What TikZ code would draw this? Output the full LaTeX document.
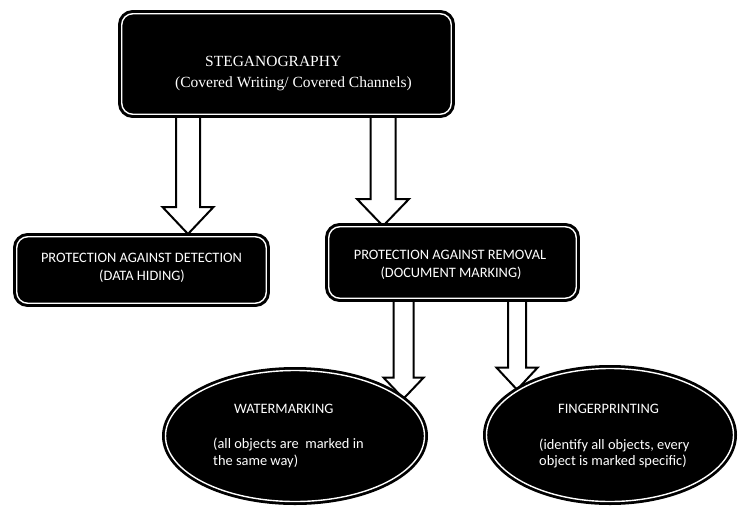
\documentclass[tikz,border=0pt]{standalone}
\usepackage{fontspec}
\newfontfamily\stegserif{Liberation Serif}
\newfontfamily\stegsans{Carlito}
\usetikzlibrary{positioning,shapes,calc,backgrounds}
\tikzset{
  block/.style={rectangle, rounded corners=11pt, draw=black, fill=black,
    line width=3pt, double=white, double distance=1.4pt},
  oval/.style={ellipse, draw=black, fill=black, inner sep=0pt,
    line width=2.8pt, double=white, double distance=1.4pt},
  hollow/.style={draw=black, fill=white, line width=2pt, line join=miter},
  serifline/.style={anchor=base west, inner sep=0pt, text=white,
    font=\stegserif\fontsize{15.5}{19}\selectfont},
  sansline/.style={anchor=base, inner sep=0pt, text=white,
    font=\stegsans\fontsize{14.4}{17}\selectfont}
}
% start, tip, half shaft, half head, head height
\newcommand{\hollowarrow}[5]{%
  \draw[hollow] ($(#1)+(-#3,0)$) -- ($(#1)+(#3,0)$) -- ($(#2)+(#3,-#5)$)
    -- ($(#2)+(#4,-#5)$) -- (#2) -- ($(#2)+(-#4,-#5)$) -- ($(#2)+(-#3,-#5)$) -- cycle;}

\begin{document}
\begin{tikzpicture}[x=1pt, y=-1pt]
  \useasboundingbox (0,0) rectangle (738,506);

  \node[block, minimum width=329.5pt, minimum height=100.5pt] (steg) at (286.5,64) {};
  \node[block, minimum width=249.5pt, minimum height=66.5pt] (det) at (141.5,270) {};
  \node[block, minimum width=247.5pt, minimum height=71.5pt] (rem) at (452.5,262.5) {};
  \node[oval, minimum width=259pt, minimum height=131pt] (wm) at (295,436) {};
  \node[oval, minimum width=247pt, minimum height=133pt] (fp) at (610,435) {};

  \node[serifline] (stegname) at (205,66) {STEGANOGRAPHY};
  \node[serifline] (stegsub) at (175,87) {(Covered Writing/ Covered Channels)};

  \node[sansline] (detname) at (141.5,262) {PROTECTION AGAINST DETECTION};
  \node[sansline] (detsub) at (142,280) {(DATA HIDING)};
  \node[sansline] (remname) at (450,259) {PROTECTION AGAINST REMOVAL};
  \node[sansline] (remsub) at (451,277) {(DOCUMENT MARKING)};

  \node[sansline, anchor=base west] (wmname) at (234,413) {WATERMARKING};
  \node[sansline, anchor=base west] (wmsub) at (213,448) {(all objects are \ marked in};
  \node[sansline, anchor=base west] (wmsub2) at (213,465) {the same way)};
  \node[sansline, anchor=base west] (fpname) at (558,413) {FINGERPRINTING};
  \node[sansline, anchor=base west] (fpsub) at (539,449) {(identify all objects, every};
  \node[sansline, anchor=base west] (fpsub2) at (539,465) {object is marked specific)};

  \coordinate (t1) at (188,234);
  \coordinate (s1) at (t1 |- steg.south);
  \coordinate (t2) at (383,226);
  \coordinate (s2) at (t2 |- steg.south);
  \coordinate (t3) at (wm.19);
  \coordinate (s3) at (t3 |- rem.south);
  \coordinate (t4) at (fp.154);
  \coordinate (s4) at (t4 |- rem.south);

  \begin{scope}[on background layer]
    \hollowarrow{s1}{t1}{12}{25.5}{27}
    \hollowarrow{s2}{t2}{12.5}{26}{27}
    \hollowarrow{s3}{t3}{10}{20}{21}
    \hollowarrow{s4}{t4}{9}{20.5}{22}
  \end{scope}
\end{tikzpicture}
\end{document}
